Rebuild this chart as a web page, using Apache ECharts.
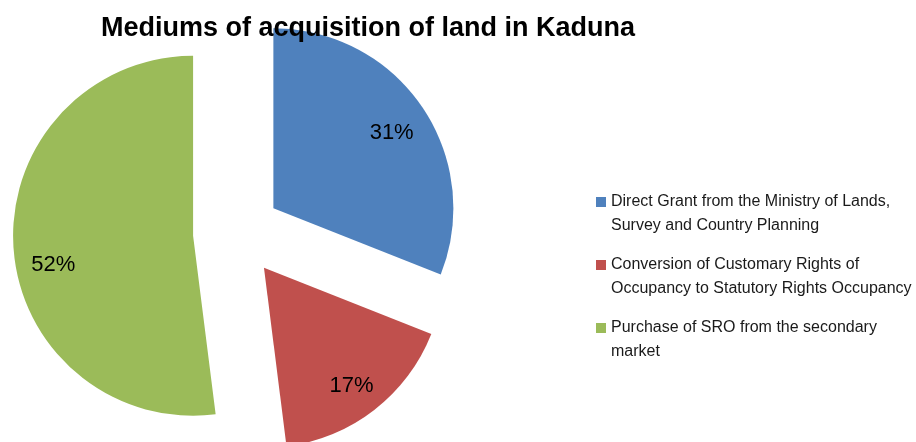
<!DOCTYPE html>
<html>
<head>
<meta charset="utf-8">
<script src="https://cdn.jsdelivr.net/npm/echarts@6/dist/echarts.min.js"></script>
<style>
  html, body { margin: 0; padding: 0; background: #fff; }
  #chart { width: 916px; height: 442px; }
</style>
</head>
<body>
<div id="chart"></div>
<script>
// data
var categories = [
  "Direct Grant from the Ministry of Lands,\nSurvey and Country Planning",
  "Conversion of Customary Rights of\nOccupancy to Statutory Rights Occupancy",
  "Purchase of SRO from the secondary\nmarket"
];
var shares = [31, 17, 52];
var colors = ["#4F81BD", "#C0504D", "#9BBB59"];

var chart = echarts.init(document.getElementById("chart"));

var font = "Liberation Sans, Arial, sans-serif";

var sliceData = categories.map(function (name, i) {
  return { name: name, value: shares[i], selected: true, itemStyle: { color: colors[i] } };
});
// invisible ring, only used to put the % labels further out than the pie middle
var labelData = categories.map(function (name, i) {
  return { name: name, value: shares[i], selected: true, itemStyle: { color: "rgba(0,0,0,0)" } };
});

var center = [237, 233];

// square at the top of a taller box so it lines up with the first text line
var legendIcon = "path://M0,0L10,0L10,10L0,10Z M0,34L10,34";

chart.setOption({
  animation: false,
  title: {
    text: "Mediums of acquisition of land in Kaduna",
    left: 96,
    top: 10,
    textStyle: { fontFamily: font, fontWeight: "bold", fontSize: 27, color: "#000" }
  },
  legend: {
    orient: "vertical",
    left: 591,
    top: 185,
    icon: legendIcon,
    itemWidth: 10,
    itemHeight: 34,
    itemGap: 15,
    data: categories,
    selectedMode: false,
    itemStyle: { borderWidth: 0 },
    textStyle: {
      fontFamily: font,
      fontSize: 16,
      color: "#1a1a1a",
      lineHeight: 24
    }
  },
  series: [
    {
      type: "pie",
      center: center,
      radius: [0, 180],
      startAngle: 90,
      clockwise: true,
      selectedMode: "multiple",
      selectedOffset: 44,
      label: { show: false },
      labelLine: { show: false },
      emphasis: { disabled: true },
      data: sliceData
    },
    {
      type: "pie",
      center: center,
      radius: [100, 180],
      startAngle: 90,
      clockwise: true,
      silent: true,
      selectedMode: "multiple",
      selectedOffset: 44,
      label: {
        show: true,
        position: "inside",
        formatter: "{c}%",
        fontFamily: font,
        fontSize: 22,
        color: "#000"
      },
      // excel sits the labels a bit lower, the big one noticeably so
      labelLayout: function (params) {
        if (params.dataIndex === 2) return { dx: 3, dy: 20 };
        return { dy: 5 };
      },
      labelLine: { show: false },
      emphasis: { disabled: true },
      data: labelData
    }
  ]
});
</script>
</body>
</html>
